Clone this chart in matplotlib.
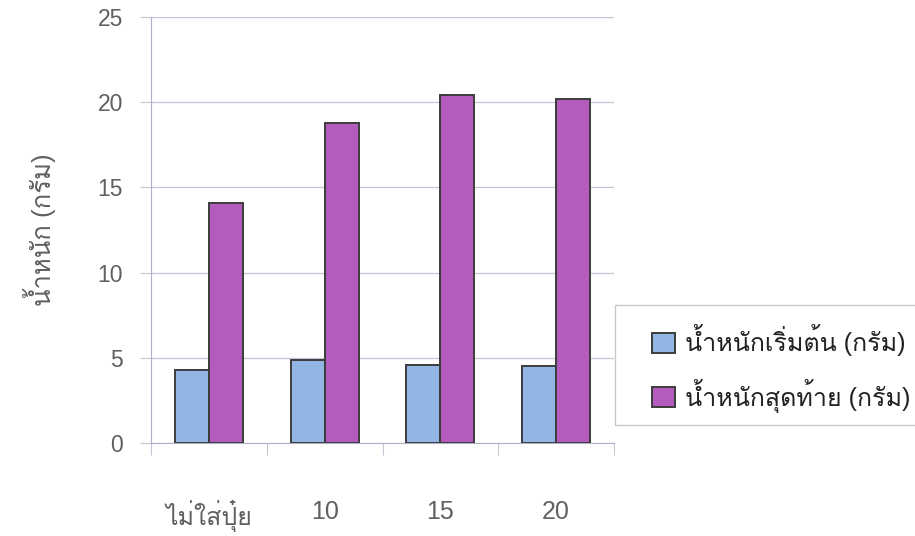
import numpy as np
import matplotlib
matplotlib.use("Agg")
from matplotlib import pyplot as plt, font_manager
from matplotlib.ft2font import FT2Font
from matplotlib.patches import Rectangle

# data
categories = ["ไม่ใส่ปุ๋ย", "10", "15", "20"]
start_weight = [4.3, 4.9, 4.6, 4.5]
final_weight = [14.1, 18.8, 20.4, 20.2]
series_names = ["น้ำหนักเริ่มต้น (กรัม)", "น้ำหนักสุดท้าย (กรัม)"]
y_label = "น้ำหนัก (กรัม)"


def find_thai_font():
    # pick any installed font that has Thai glyphs
    for f in font_manager.fontManager.ttflist:
        try:
            cmap = FT2Font(f.fname).get_charmap()
        except Exception:
            continue
        if ord("ก") in cmap and ord("ั") in cmap:
            return f.name
    return None


thai = find_thai_font()
fams = ["Liberation Sans"] + ([thai] if thai else []) + ["DejaVu Sans"]
plt.rcParams["font.family"] = fams

W, H = 915, 536
grey = "#606060"
line_c = "#c4c4d4"
fig = plt.figure(figsize=(W / 100, H / 100), dpi=100)
ax = fig.add_axes([151 / W, 1 - 443 / H, 463 / W, 426 / H])

x = np.arange(len(categories))
w = 0.293
ax.bar(x - w / 2, start_weight, w, color="#93b5e3", edgecolor="#3c3c3c", linewidth=1.4,
       label=series_names[0], zorder=3)
ax.bar(x + w / 2, final_weight, w, color="#b45cbd", edgecolor="#3c3c3c", linewidth=1.4,
       label=series_names[1], zorder=3)

ax.set_xlim(-0.5, len(categories) - 0.5)
ax.set_ylim(0, 25)
ax.set_yticks(range(0, 26, 5))
ax.yaxis.grid(True, color=line_c, linewidth=0.9, zorder=0)
ax.set_xticks(np.arange(len(categories) + 1) - 0.5, minor=False)
ax.set_xticklabels([])
ax.set_xticks(x, minor=True)
ax.set_xticklabels(categories, minor=True)
ax.tick_params(axis="x", which="minor", length=0, pad=41, labelsize=18, labelcolor=grey)
ax.tick_params(axis="x", which="major", length=8.5, color=line_c, direction="out")
ax.tick_params(axis="y", length=8, color=line_c, pad=12, labelsize=16.5, labelcolor=grey)

for s in ["top", "right"]:
    ax.spines[s].set_visible(False)
ax.spines["left"].set_color("#b0b0c8")
ax.spines["bottom"].set_color("#b0b0c8")

fig.text(40 / W, 1 - 230 / H, y_label, rotation=90, ha="center", va="center",
         fontsize=18.5, color=grey)

# legend frame drawn on its own so the padding can match the picture
fig.patches.append(Rectangle((615 / W, 1 - 425 / H), 310 / W, 120 / H,
                             transform=fig.transFigure, facecolor="white",
                             edgecolor="#c8c8c8", linewidth=1.0, zorder=1))
leg = fig.legend(loc="upper left", bbox_to_anchor=(634 / W, 1 - 307 / H),
                 frameon=False, fontsize=18, handlelength=0.95, handleheight=0.85,
                 handletextpad=0.4, labelspacing=0.9, borderpad=0.7, borderaxespad=0)
for t in leg.get_texts():
    t.set_color("#222222")

fig.savefig("out.png", dpi=100)
